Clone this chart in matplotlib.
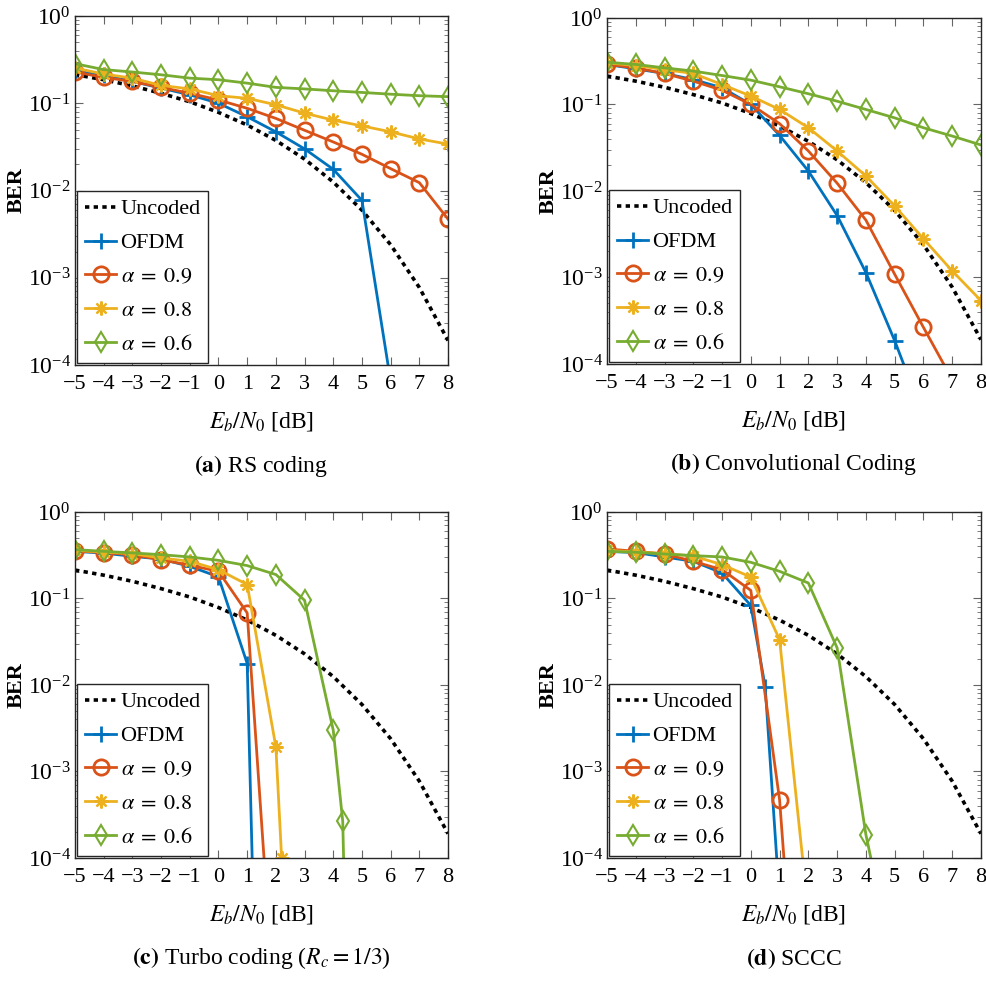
import matplotlib
matplotlib.use('Agg')
import matplotlib.pyplot as plt
from matplotlib.ticker import LogLocator, NullFormatter, FixedLocator

plt.rcParams['font.family'] = ['Liberation Serif', 'DejaVu Serif']
plt.rcParams['mathtext.fontset'] = 'stix'

ebn0 = [-5, -4, -3, -2, -1, 0, 1, 2, 3, 4, 5, 6, 7, 8]
# uncoded BPSK
uncoded = [0.213, 0.186, 0.158, 0.130, 0.104, 0.0786, 0.0563, 0.0375,
           0.0229, 0.0125, 0.00595, 0.00239, 0.000773, 0.000191]

# (a) RS coding
rs_x = [-5, -4, -3, -2, -1, 0, 1, 2, 3, 4, 5, 6, 7, 8]
rs_ofdm = [0.236, 0.208, 0.178, 0.149, 0.125, 0.100, 0.070, 0.047, 0.030, 0.0175, 0.0077, 6.5e-5]
rs_a09 = [0.228, 0.198, 0.178, 0.152, 0.130, 0.109, 0.0875, 0.067, 0.049, 0.036, 0.026, 0.0178, 0.0123, 0.0047]
rs_a08 = [0.253, 0.216, 0.194, 0.160, 0.146, 0.122, 0.114, 0.096, 0.077, 0.064, 0.055, 0.047, 0.039, 0.034]
rs_a06 = [0.284, 0.243, 0.228, 0.212, 0.194, 0.186, 0.170, 0.152, 0.146, 0.139, 0.133, 0.127, 0.122, 0.119]

# (b) convolutional coding
cc_x = [-5, -4, -3, -2, -1, 0, 1, 2, 3, 4, 5, 6, 7, 8]
cc_ofdm = [0.290, 0.258, 0.228, 0.194, 0.156, 0.100, 0.0439, 0.017, 0.0052, 0.00114, 0.000186, 2.5e-5]
cc_a09 = [0.290, 0.265, 0.228, 0.186, 0.146, 0.100, 0.060, 0.029, 0.0123, 0.0046, 0.00109, 0.000265, 6.6e-5]
cc_a08 = [0.303, 0.282, 0.253, 0.228, 0.170, 0.125, 0.0875, 0.0538, 0.029, 0.0149, 0.0067, 0.0028, 0.00119, 0.00054]
cc_a06 = [0.308, 0.290, 0.265, 0.243, 0.216, 0.191, 0.160, 0.133, 0.109, 0.0875, 0.070, 0.0538, 0.0431, 0.034]

# (c) turbo coding
tc_ofdm_x = [-5, -4, -3, -2, -1, 0, 1, 1.25]
tc_ofdm = [0.350, 0.335, 0.307, 0.286, 0.235, 0.178, 0.0177, 1e-5]
tc_a09_x = [-5, -4, -3, -2, -1, 0, 1, 2]
tc_a09 = [0.355, 0.340, 0.320, 0.281, 0.242, 0.206, 0.068, 1e-6]
tc_a08_x = [-5, -4, -3, -2, -1, 0, 1, 2, 2.2]
tc_a08 = [0.360, 0.345, 0.330, 0.294, 0.269, 0.215, 0.145, 0.00192, 1.0e-4]
tc_a06_x = [-5, -4, -3, -2, -1, 0, 1, 2, 3, 4, 4.33, 4.5]
tc_a06 = [0.367, 0.351, 0.336, 0.321, 0.302, 0.276, 0.240, 0.189, 0.0953, 0.00299, 2.65e-4, 1e-6]

# (d) SCCC
sc_ofdm_x = [-5, -4, -3, -2, -1, 0, 0.5, 1]
sc_ofdm = [0.350, 0.340, 0.302, 0.269, 0.197, 0.083, 0.0095, 3.2e-5]
sc_a09_x = [-5, -4, -3, -2, -1, 0, 1, 2]
sc_a09 = [0.374, 0.351, 0.327, 0.269, 0.215, 0.124, 4.7e-4, 1.6e-8]
sc_a08_x = [-5, -4, -3, -2, -1, 0, 1, 2]
sc_a08 = [0.360, 0.345, 0.330, 0.310, 0.246, 0.177, 0.0334, 2.3e-5]
sc_a06_x = [-5, -4, -3, -2, -1, 0, 1, 2, 3, 4, 5]
sc_a06 = [0.351, 0.342, 0.327, 0.313, 0.302, 0.262, 0.206, 0.151, 0.0268, 1.86e-4, 5e-6]

blue = '#0072BD'
red = '#D95319'
yellow = '#EDB120'
green = '#77AC30'


def panel(ax, xo, yo, x9, y9, x8, y8, x6, y6, caption):
    ax.plot(ebn0, uncoded, color='k', lw=2.6, ls=(0, (1.2, 1.2)), label='Uncoded')
    ax.plot(xo, yo, color=blue, lw=2, marker='+', ms=11, mew=2, label='OFDM')
    ax.plot(x9, y9, color=red, lw=2, marker='o', ms=11, mew=2, mfc='none', label=r'$\alpha\;=\;0.9$')
    ax.plot(x8, y8, color=yellow, lw=2, marker=(8, 2, 0), ms=10, mew=1.6, label=r'$\alpha\;=\;0.8$')
    ax.plot(x6, y6, color=green, lw=2, marker='d', ms=10.5, mew=1.5, mfc='none', label=r'$\alpha\;=\;0.6$')
    ax.set_yscale('log')
    ax.set_xlim(-5, 8)
    ax.set_ylim(1e-4, 1)
    ax.xaxis.set_major_locator(FixedLocator(range(-5, 9)))
    ax.yaxis.set_major_locator(LogLocator(base=10, numticks=10))
    ax.yaxis.set_minor_locator(LogLocator(base=10, subs=range(2, 10), numticks=10))
    ax.yaxis.set_minor_formatter(NullFormatter())
    ax.tick_params(which='both', direction='in', top=True, right=True, colors='k')
    ax.tick_params(axis='x', pad=7, labelsize=16)
    ax.tick_params(axis='y', pad=3, labelsize=17)
    ax.tick_params(which='major', length=6, color='#666666')
    ax.tick_params(which='minor', length=3, color='#666666')
    for s in ax.spines.values():
        s.set_color('#262626')
        s.set_linewidth(1)
    ax.set_xlabel(r'$E_b/N_0$ [dB]', fontsize=17, labelpad=12)
    ax.set_ylabel('BER', fontsize=16, fontweight='bold', labelpad=1)
    leg = ax.legend(loc='lower left', fontsize=16, handlelength=1.4, handletextpad=0.2,
                    borderpad=0.35, labelspacing=0.6, borderaxespad=0.1, fancybox=False,
                    framealpha=1)
    leg.get_frame().set_edgecolor('#262626')
    leg.get_frame().set_linewidth(1)
    ax.text(0.5, -0.29, caption, transform=ax.transAxes, ha='center', va='center', fontsize=17)


fig = plt.figure(figsize=(9.86, 9.81), dpi=100)
axa = fig.add_axes([0.0761, 0.6279, 0.3783, 0.3558])
axb = fig.add_axes([0.6156, 0.6290, 0.3793, 0.3527])
axc = fig.add_axes([0.0761, 0.1254, 0.3783, 0.3527])
axd = fig.add_axes([0.6156, 0.1254, 0.3793, 0.3527])

panel(axa, rs_x[:len(rs_ofdm)], rs_ofdm, rs_x[:len(rs_a09)], rs_a09, rs_x, rs_a08, rs_x, rs_a06,
      r'$\mathbf{(a)}$ RS coding')
panel(axb, cc_x[:len(cc_ofdm)], cc_ofdm, cc_x[:len(cc_a09)], cc_a09, cc_x, cc_a08, cc_x, cc_a06,
      r'$\mathbf{(b)}$ Convolutional Coding')
panel(axc, tc_ofdm_x, tc_ofdm, tc_a09_x, tc_a09, tc_a08_x, tc_a08, tc_a06_x, tc_a06,
      r'$\mathbf{(c)}$ Turbo coding ($R_c = 1/3$)')
panel(axd, sc_ofdm_x, sc_ofdm, sc_a09_x, sc_a09, sc_a08_x, sc_a08, sc_a06_x, sc_a06,
      r'$\mathbf{(d)}$ SCCC')

fig.savefig('out.png', dpi=100)
